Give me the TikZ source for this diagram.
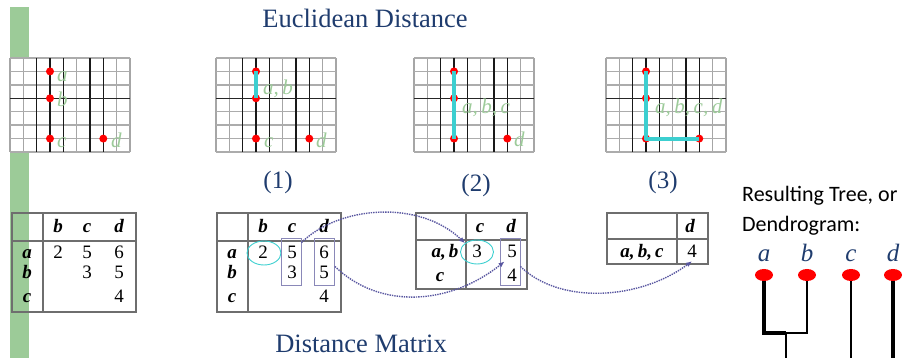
\documentclass[tikz,border=0pt]{standalone}
\usepackage{fontspec}
\setmainfont{Liberation Serif}
\newfontfamily\calibri{Carlito}
\usetikzlibrary{arrows.meta,shapes.geometric,positioning,calc}
\definecolor{titleblue}{HTML}{1F3C6E}
\definecolor{barg}{HTML}{9CCB98}
\definecolor{lblg}{HTML}{9DCB9A}
\definecolor{cyanl}{HTML}{3CCFD0}
\definecolor{framep}{HTML}{8A88B8}
\definecolor{dotp}{HTML}{5856A0}
\definecolor{tgray}{HTML}{6E6E6E}

\begin{document}
\begin{tikzpicture}[x=1pt,y=-1pt,
  dot/.style={circle,fill=red,inner sep=0pt,minimum size=8pt},
  glbl/.style={text=lblg,font=\fontsize{21}{22}\selectfont\itshape,inner sep=0pt,anchor=base west},
  link/.style={cyanl,line width=4pt},
  tframe/.style={tgray,line width=1.6pt},
  hd/.style={font=\fontsize{19}{20}\selectfont\bfseries\itshape,inner sep=0pt,anchor=base},
  num/.style={font=\fontsize{19}{20}\selectfont,inner sep=0pt,anchor=base},
  ring/.style={ellipse,draw=cyanl,line width=0.9pt,minimum width=34pt,minimum height=24pt,inner sep=0pt},
  colbox/.style={draw=framep,line width=0.9pt,minimum width=20pt,minimum height=47pt,inner sep=0pt},
  hop/.style={dotp,densely dotted,line width=1.4pt,-{Latex[length=6pt,width=5pt]}},
  leaf/.style={ellipse,fill=red,inner sep=0pt,minimum width=18pt,minimum height=12pt},
  ttl/.style={text=titleblue,font=\fontsize{26.5}{28}\selectfont,inner sep=0pt,anchor=base}]
\useasboundingbox (0,0) rectangle (914,358);
\fill[barg] (10,7) rectangle (29,358);

\node[ttl] (euclid) at (365,28) {Euclidean Distance};
\node[ttl] (dmat) at (361,353) {Distance Matrix};
\node[ttl,font=\fontsize{25}{26}\selectfont] (step1) at (278,188.5) {(1)};
\node[ttl,font=\fontsize{25}{26}\selectfont] (step2) at (476,192) {(2)};
\node[ttl,font=\fontsize{25}{26}\selectfont] (step3) at (663,188.5) {(3)};

\foreach \k/\gx in {1/10,2/216,3/414,4/606}{
  \fill[white] (\gx,58) rectangle ++(120,94);
  \foreach \i in {0,...,9} \draw[gray!70,line width=1.4pt] (\gx+\i*13.33,58) -- ++(0,94);
  \foreach \j in {0,...,7} \draw[gray!65,line width=1.4pt] (\gx,58+\j*13.43) -- ++(120,0);
  \foreach \i in {2,3,4,6,7} \draw[black!90,line width=1.4pt] (\gx+\i*13.33,58) -- ++(0,94);
  \draw[black!85,line width=1.3pt] (\gx,98.3) -- ++(120,0);
  \node[dot] (a\k) at (\gx+40,71.4) {};
  \node[dot] (b\k) at (\gx+40,98.3) {};
  \node[dot] (c\k) at (\gx+40,138.6) {};
  \node[dot] (d\k) at (\gx+93.3,138.6) {};
}
\draw[link] (a2.center) -- (b2.center);
\draw[link] (a3.center) -- (c3.center);
\draw[link,line join=round] (a4.center) -- (c4.center) -- (d4.center);

\node[glbl] (la1) at (57,82) {a};
\node[glbl] (lb1) at (57,107) {b};
\node[glbl] (lc1) at (57,148) {c};
\node[glbl] (ld1) at (111,148) {d};
\node[glbl] (lab2) at (263,95) {a,\,b};
\node[glbl] (lc2) at (264,148) {c};
\node[glbl] (ld2) at (316,148) {d};
\node[glbl] (labc3) at (462,114) {a,\,b,\,c};
\node[glbl] (ld3) at (514,147) {d};
\node[glbl] (labcd4) at (655,114) {a,\,b,\,c,\,d};

\foreach \k/\dx in {1/0,2/205}{
  \draw[tframe] (12+\dx,213) rectangle (136+\dx,312);
  \draw[tframe] (43+\dx,213) -- (43+\dx,312) (12+\dx,241) -- (136+\dx,241);
  \node[hd] (h\k b) at (58+\dx,233) {b};
  \node[hd] (h\k c) at (87+\dx,233) {c};
  \node[hd] (h\k d) at (119+\dx,233) {d};
  \node[hd] (r\k a) at (27+\dx,258.5) {a};
  \node[hd] (r\k b) at (27+\dx,279) {b};
  \node[hd] (r\k c) at (27+\dx,303) {c};
  \node[num] (v\k ab) at (58+\dx,258.5) {2};
  \node[num] (v\k ac) at (87+\dx,258.5) {5};
  \node[num] (v\k ad) at (119+\dx,258.5) {6};
  \node[num] (v\k bc) at (87+\dx,279) {3};
  \node[num] (v\k bd) at (119+\dx,279) {5};
  \node[num] (v\k cd) at (119+\dx,303) {4};
}
\node[ring] (el2) at (264,253) {};
\node[colbox] (box2c) at (291,261.5) {};
\node[colbox] (box2d) at (324.5,261.5) {};

\draw[tframe] (416,213) rectangle (527,289);
\draw[tframe] (466,213) -- (466,289) (416,240) -- (527,240);
\node[hd] (h3c) at (480,233) {c};
\node[hd] (h3d) at (511,233) {d};
\node[hd] (r3ab) at (445,257.5) {a,\,b};
\node[hd] (r3c) at (440,282) {c};
\node[num] (v3abc) at (477,257.5) {3};
\node[num] (v3abd) at (512,257.5) {5};
\node[num] (v3cd) at (512,282) {4};
\node[ring,minimum width=33pt] (el3) at (477,252) {};
\node[colbox] (box3d) at (510,261.5) {};

\draw[tframe] (607,213) rectangle (708,264);
\draw[tframe] (677,213) -- (677,264) (607,239) -- (708,239);
\node[hd] (h4d) at (690,233) {d};
\node[hd] (r4abc) at (642,258) {a,\,b,\,c};
\node[num] (v4abcd) at (692,258) {4};

\draw[hop] ([yshift=-5pt]box2c.north east) .. controls (340,205) and (420,200) .. (el3.north west);
\draw[hop] ([yshift=-5pt]box2d.east) .. controls (380,310) and (450,305) .. ([xshift=5pt]box3d.west);
\draw[hop] ([yshift=-5pt]box3d.east) .. controls (560,305) and (640,300) .. ([yshift=-3pt]v4abcd.south);

\node[font=\calibri\fontsize{22}{24}\selectfont,inner sep=0pt,anchor=base west] (res) at (742,202) {Resulting Tree, or};
\node[font=\calibri\fontsize{22}{24}\selectfont,inner sep=0pt,anchor=base west] (dend) at (742,232) {Dendrogram:};
\foreach \n/\lx in {a/764,b/807,c/851,d/893}{
  \node[text=titleblue,font=\fontsize{25}{26}\selectfont\itshape,inner sep=0pt,anchor=base] (t\n) at (\lx,262) {\n};
  \node[leaf] (l\n) at (\lx,275) {};
}
\coordinate (jab) at (786,333);
\coordinate (bot) at (786,358);
\draw[line width=3.3pt] (la) |- (jab);
\draw[line width=2pt] (lb) |- (jab);
\draw[line width=2pt] (jab) -- (bot);
\draw[line width=2pt] (lc) -- (lc |- bot);
\draw[line width=3.3pt] (ld) -- (ld |- bot);
\end{tikzpicture}
\end{document}
